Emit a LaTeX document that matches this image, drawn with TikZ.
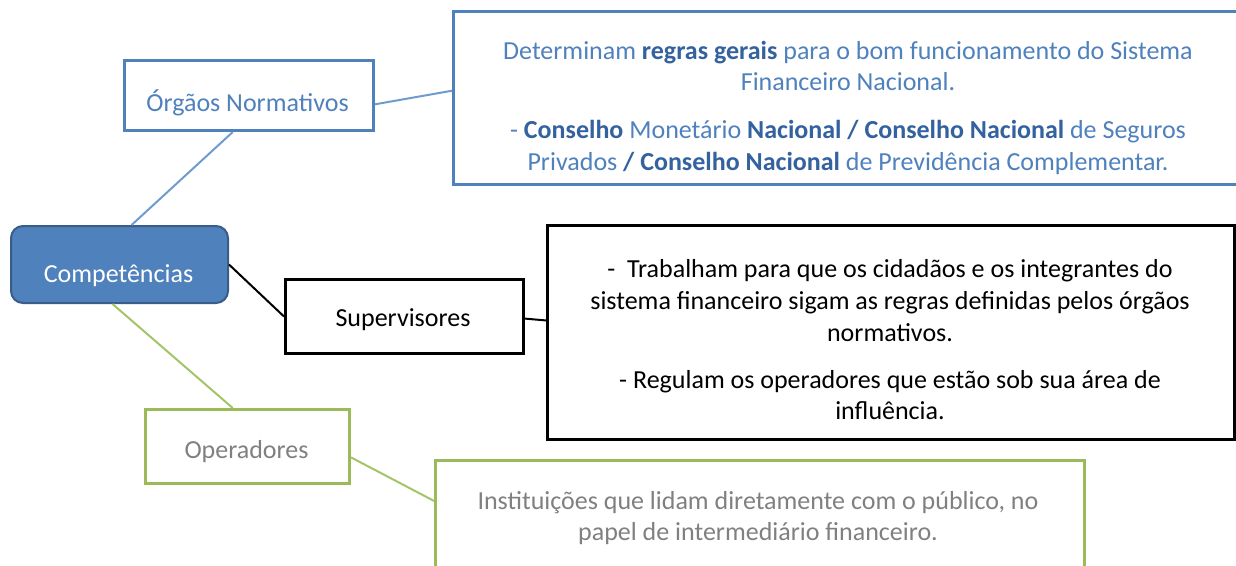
\documentclass[tikz,border=0pt]{standalone}
\usepackage{fontspec}
\setmainfont{Carlito}
\definecolor{nblue}{RGB}{79,129,189}
\definecolor{nbluetxt}{RGB}{79,129,189}
\definecolor{nbluebold}{RGB}{52,98,158}
\definecolor{nbluedark}{RGB}{56,93,138}
\definecolor{nblueline}{RGB}{110,155,208}
\definecolor{ngreen}{RGB}{155,187,89}
\definecolor{ngreenline}{RGB}{165,196,105}
\definecolor{ngrey}{RGB}{128,128,128}
\newcommand{\bodyfont}{\fontsize{26}{31.6}\selectfont}
\begin{document}
\begin{tikzpicture}[x=1pt,y=-1pt,
  box/.style={rectangle, draw, line width=3pt, fill=white, inner sep=0pt, anchor=north west},
  bluebox/.style={box, draw=nblue},
  blackbox/.style={box, draw=black},
  greenbox/.style={box, draw=ngreen},
  txt/.style={inner sep=0pt, font=\bodyfont, align=center},
  bluetxt/.style={txt, text=nbluetxt},
  blacktxt/.style={txt, text=black},
  greytxt/.style={txt, text=ngrey},
  blueline/.style={draw=nblueline, line width=2pt},
  blackline/.style={draw=black, line width=2pt},
  greenline/.style={draw=ngreenline, line width=2pt}]
\useasboundingbox (0,0) rectangle (1236,565);

% boxes
\node[bluebox, minimum width=249pt, minimum height=70pt] (orgaos) at (123,59) {};
\node[bluebox, minimum width=830pt, minimum height=173pt] (normbox) at (452,10) {};
\node[rectangle, rounded corners=12pt, draw=nbluedark, fill=nblue, line width=2pt,
      minimum width=217pt, minimum height=77pt, anchor=north west, inner sep=0pt] (comp) at (10,225) {};
\node[blackbox, minimum width=238pt, minimum height=74pt] (sup) at (284,278) {};
\node[blackbox, minimum width=687pt, minimum height=214pt] (supbox) at (546,224) {};
\node[greenbox, minimum width=204pt, minimum height=74pt] (oper) at (144,408) {};
\node[greenbox, minimum width=649pt, minimum height=115pt] (operbox) at (434,459) {};

% texts
\node[bluetxt, anchor=base] (orgaosT) at (247.5,111) {Órgãos Normativos};
\node[txt, text=white, anchor=base] (compT) at (118.5,282) {Competências};
\node[blacktxt, anchor=base] (supT) at (403,326) {Supervisores};
\node[greytxt, anchor=base] (operT) at (246.5,458) {Operadores};

\node[bluetxt, anchor=north] (normT) at (848,37) {%
\strut Determinam \textcolor{nbluebold}{\textbf{regras gerais}} para o bom funcionamento do Sistema\\
\strut Financeiro Nacional.\\[16pt]
\strut - \textcolor{nbluebold}{\textbf{Conselho}} Monetário \textcolor{nbluebold}{\textbf{Nacional / Conselho Nacional}} de Seguros\\
\strut Privados \textcolor{nbluebold}{\textbf{/ Conselho Nacional}} de Previdência Complementar.};

\node[blacktxt, anchor=north] (supboxT) at (890,255.5) {%
\strut -\ \ Trabalham para que os cidadãos e os integrantes do\\
\strut sistema financeiro sigam as regras definidas pelos órgãos\\
\strut normativos.\\[15.5pt]
\strut - Regulam os operadores que estão sob sua área de\\
\strut influência.};

\node[greytxt, anchor=north] (operboxT) at (758,487) {%
\strut Instituições que lidam diretamente com o público, no\\
\strut papel de intermediário financeiro.};

% connectors
\draw[blueline] (comp.73) -- (orgaos.246);
\draw[blueline] (orgaos.-4.6) -- (normbox.179.1);
\draw[blackline] (comp.east) -- (sup.west);
\draw[blackline] (sup.-1.9) -- (supbox.178.67);
\draw[greenline] (comp.260.4) -- (oper.111.4);
\draw[greenline] (oper.-6.7) -- (operbox.177.6);
\end{tikzpicture}
\end{document}
